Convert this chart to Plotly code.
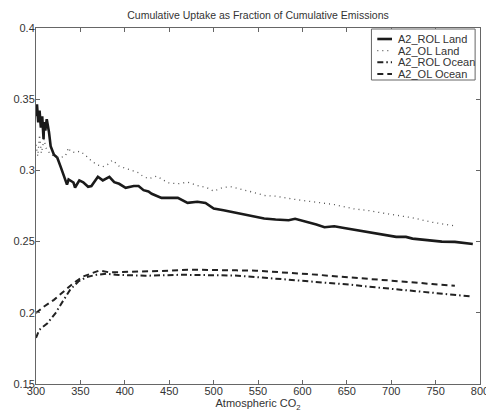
import plotly.graph_objects as go

# ---- data ----
rol_land_x = [300, 301.1, 302.5, 304, 305.5, 307, 308.5, 309.1, 310.5, 312.1, 314.6, 316.5, 320.2, 323.9,
              327.5, 331.2, 334.9, 336.7, 342.2, 344, 348.8, 353.2, 358.7, 362.4, 369.7, 375.2,
              382.6, 388.1, 393.6, 401, 410.1, 415.5, 421.1, 426.6, 430.3, 441.3, 450.5, 459.7,
              470.7, 481.7, 490.9, 500.1, 511.1, 522.1, 533.1, 544.2, 556.9, 569.8, 584.5, 591.8,
              602.9, 615.7, 624.9, 635.9, 646.9, 658, 665.3, 676.3, 689.1, 694.6, 705.6, 716.6,
              724, 735, 746, 757, 771.7, 782.7, 791.9]
rol_land_y = [0.338, 0.3464, 0.3337, 0.342, 0.330, 0.338, 0.322, 0.334, 0.328, 0.336, 0.327, 0.317,
              0.311, 0.309, 0.303, 0.296, 0.290, 0.2936, 0.2915, 0.288, 0.293, 0.2917, 0.2885, 0.289,
              0.2955, 0.293, 0.2955, 0.2917, 0.2906, 0.2878, 0.289, 0.289, 0.2861, 0.2852, 0.2836,
              0.2807, 0.2807, 0.2807, 0.2772, 0.278, 0.2772, 0.2732, 0.272, 0.2706, 0.269, 0.2678,
              0.2662, 0.2655, 0.265, 0.266, 0.2643, 0.262, 0.2601, 0.2608, 0.2596, 0.2584, 0.2572,
              0.2565, 0.2549, 0.2544, 0.2533, 0.2533, 0.2521, 0.2514, 0.2507, 0.25, 0.2498, 0.2491,
              0.2483]

ol_land_x = [300, 302, 304, 306, 309.1, 311, 316.5, 322, 327.5, 333, 336.7, 338.5, 344, 349.6, 355.1,
             360.6, 367.9, 375.2, 380.7, 386.2, 393.6, 404.6, 415.6, 419.3, 426.6, 435.8, 448.7,
             459.7, 470.7, 481.7, 492.7, 500.1, 511.1, 520.2, 533.1, 544.2, 556.9, 569.8, 591.8,
             613.9, 635.9, 657.9, 674.4, 689.1, 702, 724, 746, 769.9]
ol_land_y = [0.318, 0.310, 0.325, 0.312, 0.322, 0.316, 0.311, 0.310, 0.309, 0.310, 0.316, 0.3135,
             0.3124, 0.3135, 0.311, 0.3077, 0.3042, 0.3026, 0.3042, 0.3072, 0.303, 0.3007, 0.2983,
             0.2964, 0.2941, 0.296, 0.2913, 0.2906, 0.2917, 0.2894, 0.2878, 0.2854, 0.2882, 0.2885,
             0.2866, 0.2847, 0.2824, 0.2819, 0.2796, 0.2777, 0.276, 0.273, 0.2718, 0.2702, 0.269,
             0.2667, 0.2636, 0.2612]

rol_ocean_x = [300, 303.6, 312.9, 322, 331.2, 338.5, 347.7, 356.9, 367.9, 379, 390, 404.6, 423,
               463.3, 500.1, 522.1, 547.8, 573.5, 599.2, 628.5, 654.3, 683.6, 713, 738.6, 764.4,
               790.1]
rol_ocean_y = [0.1824, 0.188, 0.1927, 0.1998, 0.2091, 0.2162, 0.222, 0.2251, 0.2267, 0.2274, 0.2267,
               0.2262, 0.226, 0.2267, 0.2267, 0.2262, 0.2251, 0.2239, 0.2227, 0.2213, 0.2197,
               0.2178, 0.2162, 0.2146, 0.2132, 0.2115]

ol_ocean_x = [300, 309.1, 320.2, 331.2, 342.2, 353.2, 362.4, 371.6, 382.6, 393.6, 404.6, 426.6,
              448.7, 470.7, 500.1, 525.8, 547.8, 573.5, 591.8, 617.5, 639.5, 665.3, 691, 720.4,
              746, 771.7]
ol_ocean_y = [0.1998, 0.2044, 0.2091, 0.215, 0.2209, 0.2255, 0.2279, 0.2298, 0.2284, 0.2286, 0.2284,
              0.229, 0.2295, 0.2303, 0.2303, 0.2298, 0.2296, 0.2286, 0.2274, 0.2267, 0.2255,
              0.2244, 0.2232, 0.2216, 0.2202, 0.219]

series_names = ["A2_ROL Land", "A2_OL Land", "A2_ROL Ocean", "A2_OL Ocean"]
x_ticks = [300, 350, 400, 450, 500, 550, 600, 650, 700, 750, 800]
y_ticks = [0.15, 0.2, 0.25, 0.3, 0.35, 0.4]
y_tick_labels = ["0.15", "0.2", "0.25", "0.3", "0.35", "0.4"]

# ---- styles ----
styles = [
    dict(color="#1a1a1a", width=2.6, dash="solid"),
    dict(color="#555555", width=1.3, dash="1px,4px"),
    dict(color="#222222", width=2.0, dash="6px,3px,1.5px,3px"),
    dict(color="#222222", width=2.0, dash="6px,4px"),
]

# figure geometry (the page body adds an 8px offset)
W, H = 486, 405
L, R, T, B = 27, 481, 20, 376

def px(fx):
    return (fx - L) / (R - L)

def py(fy):
    return (B - fy) / (B - T)

fig = go.Figure()
for xs, ys, name, st in zip([rol_land_x, ol_land_x, rol_ocean_x, ol_ocean_x],
                            [rol_land_y, ol_land_y, rol_ocean_y, ol_ocean_y],
                            series_names, styles):
    fig.add_trace(go.Scatter(x=xs, y=ys, mode="lines", name=name, line=st,
                             showlegend=False))

axis_common = dict(showline=True, linecolor="#666666", linewidth=1, mirror="ticks",
                   ticks="inside", ticklen=4, tickcolor="#666666", showgrid=False,
                   zeroline=False, tickfont=dict(size=11, color="#333333"))

# manual legend (compact like the original)
shapes = [dict(type="rect", xref="paper", yref="paper",
               x0=px(370), x1=px(476), y0=py(21), y1=py(72),
               line=dict(color="#666666", width=1), fillcolor="white", layer="above")]
annotations = []
item_y = [31, 42.7, 54.3, 66]
for name, st, fy in zip(series_names, styles, item_y):
    shapes.append(dict(type="line", xref="paper", yref="paper",
                       x0=px(376), x1=px(391), y0=py(fy), y1=py(fy),
                       line=dict(color=st["color"], width=st["width"], dash=st["dash"]),
                       layer="above"))
    annotations.append(dict(text=name, xref="paper", yref="paper", x=px(395), y=py(fy),
                            xanchor="left", yanchor="middle", showarrow=False,
                            font=dict(size=11, color="#333333")))

fig.update_layout(
    width=W, height=H,
    margin=dict(l=L, r=W - R, t=T, b=H - B),
    paper_bgcolor="white", plot_bgcolor="white",
    font=dict(family="Liberation Sans, Arial, sans-serif", color="#333333"),
    title=dict(text="Cumulative Uptake as Fraction of Cumulative Emissions",
               x=0.5, xref="paper", xanchor="center", y=1 - 7 / H, yanchor="middle",
               font=dict(size=10.5, color="#333333")),
    xaxis=dict(range=[300, 800], tickvals=x_ticks, ticklabeloverflow="allow",
               ticklabelstandoff=-3,
               title=dict(text="Atmospheric CO<sub>2</sub>", standoff=0,
                          font=dict(size=11, color="#333333")),
               **axis_common),
    yaxis=dict(range=[0.15, 0.4], tickvals=y_ticks, ticktext=y_tick_labels,
               ticklabelstandoff=-2, **axis_common),
    showlegend=False,
    shapes=shapes,
    annotations=annotations,
)

fig.write_html("out.html")
